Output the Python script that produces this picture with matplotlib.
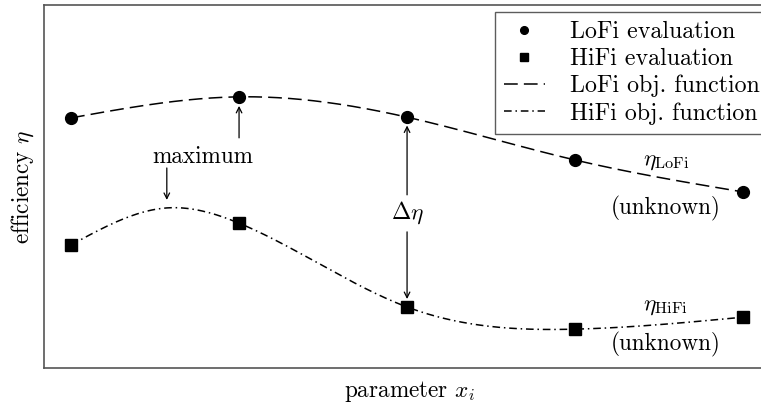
import numpy as np
import matplotlib
matplotlib.use("Agg")
import matplotlib.pyplot as plt

plt.rcParams['font.family'] = 'serif'
plt.rcParams['font.serif'] = ['cmr10', 'DejaVu Serif']
plt.rcParams['mathtext.fontset'] = 'cm'
plt.rcParams['axes.formatter.use_mathtext'] = True

# sampled design points (parameter index) and efficiencies
x_eval = [0, 1, 2, 3, 4]
eta_lofi = [0.689, 0.747, 0.691, 0.573, 0.485]
eta_hifi = [0.339, 0.399, 0.168, 0.107, 0.140]

# knots of the (unknown) objective functions
lofi_knots_x = [0, 1, 2, 3, 4]
lofi_knots_y = [0.689, 0.747, 0.691, 0.573, 0.485]
hifi_knots_x = [0, 0.57, 1, 2, 3, 4]
hifi_knots_y = [0.339, 0.441, 0.399, 0.168, 0.107, 0.140]


def natural_spline(xk, yk, xs):
    xk = np.asarray(xk, float)
    yk = np.asarray(yk, float)
    n = len(xk)
    h = np.diff(xk)
    A = np.zeros((n, n))
    b = np.zeros(n)
    A[0, 0] = A[-1, -1] = 1.0
    for i in range(1, n - 1):
        A[i, i - 1] = h[i - 1]
        A[i, i] = 2 * (h[i - 1] + h[i])
        A[i, i + 1] = h[i]
        b[i] = 6 * ((yk[i + 1] - yk[i]) / h[i] - (yk[i] - yk[i - 1]) / h[i - 1])
    M = np.linalg.solve(A, b)
    idx = np.clip(np.searchsorted(xk, xs) - 1, 0, n - 2)
    x0, x1 = xk[idx], xk[idx + 1]
    hh = x1 - x0
    t0, t1 = x1 - xs, xs - x0
    return (M[idx] * t0**3 / (6 * hh) + M[idx + 1] * t1**3 / (6 * hh)
            + (yk[idx] / hh - M[idx] * hh / 6) * t0
            + (yk[idx + 1] / hh - M[idx + 1] * hh / 6) * t1)


xs = np.linspace(0, 4, 400)

fig = plt.figure(figsize=(7.61, 4.04), dpi=100)
ax = fig.add_axes([44 / 761, 36 / 404, 731 / 761, 363 / 404])

ax.plot(xs, natural_spline(lofi_knots_x, lofi_knots_y, xs), color='black',
        lw=1.1, dashes=(9, 4), label='LoFi obj. function', zorder=2)
ax.plot(xs, natural_spline(hifi_knots_x, hifi_knots_y, xs), color='black',
        lw=1.1, dashes=(5, 2.5, 1, 2.5), label='HiFi obj. function', zorder=2)
ax.plot(x_eval, eta_lofi, 'o', color='black', ms=8.5, ls='none',
        label='LoFi evaluation', zorder=3)
ax.plot(x_eval, eta_hifi, 's', color='black', ms=8, ls='none',
        label='HiFi evaluation', zorder=3)

arrow = dict(arrowstyle='->', color='black', lw=0.9, shrinkA=0, shrinkB=0)
fs = 16.7

# maximum markers
ax.annotate('', xy=(1.0, 0.722), xytext=(1.0, 0.634), arrowprops=arrow)
ax.annotate('', xy=(0.57, 0.463), xytext=(0.57, 0.551), arrowprops=arrow)
ax.text(0.786, 0.581, 'maximum', fontsize=fs, ha='center', va='center')

# difference between the two fidelities
ax.annotate('', xy=(2.0, 0.668), xytext=(2.0, 0.477), arrowprops=arrow)
ax.annotate('', xy=(2.0, 0.190), xytext=(2.0, 0.375), arrowprops=arrow)
ax.text(2.0, 0.427, r'$\Delta\eta$', fontsize=fs, ha='center', va='center')

ax.text(3.54, 0.570, r'$\eta_{\mathrm{LoFi}}$', fontsize=fs, ha='center', va='center')
ax.text(3.54, 0.440, '(unknown)', fontsize=fs, ha='center', va='center')
ax.text(3.54, 0.172, r'$\eta_{\mathrm{HiFi}}$', fontsize=fs, ha='center', va='center')
ax.text(3.54, 0.066, '(unknown)', fontsize=fs, ha='center', va='center')

ax.set_xlim(-0.161, 4.19)
ax.set_ylim(0, 1)
ax.set_xticks([])
ax.set_yticks([])
ax.spines['right'].set_visible(False)
for s in ['left', 'bottom', 'top']:
    ax.spines[s].set_color('#555555')
    ax.spines[s].set_linewidth(1.2)

ax.set_xlabel(r'parameter $x_i$', fontsize=fs, labelpad=8)
ax.set_ylabel(r'efficiency $\eta$', fontsize=fs, labelpad=6)

handles, labels = ax.get_legend_handles_labels()
order = [2, 3, 0, 1]
leg = ax.legend([handles[i] for i in order], [labels[i] for i in order],
                loc='upper right', bbox_to_anchor=(0.992, 0.982),
                borderaxespad=0, fontsize=17.2, frameon=True, fancybox=False,
                handlelength=1.7, handletextpad=1.05, labelspacing=0.2,
                borderpad=0.4, markerscale=0.65)
leg.get_frame().set_edgecolor('#333333')
leg.get_frame().set_linewidth(1.0)

fig.savefig('out.png', dpi=100)
